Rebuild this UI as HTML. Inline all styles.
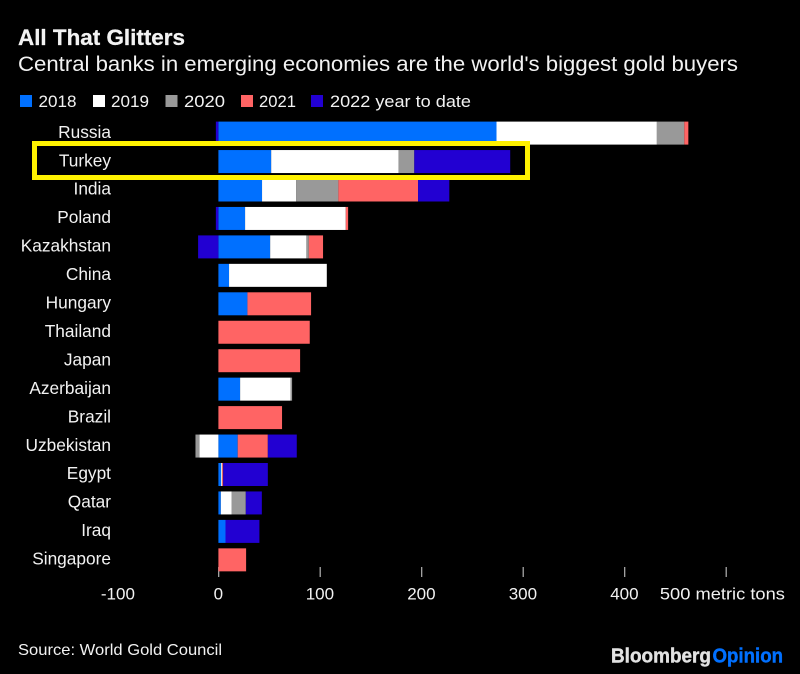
<!DOCTYPE html>
<html lang="en">
<head>
<meta charset="utf-8">
<title>All That Glitters</title>
<style>
html,body{margin:0;padding:0;background:#000;}
#chart-root{display:block;width:800px;height:674px;background:#000;}
text{font-family:"Liberation Sans",sans-serif;fill:#f2f2f2;}
</style>
</head>
<body>
<svg id="chart-root" xmlns="http://www.w3.org/2000/svg" width="800" height="674" viewBox="0 0 800 674">
  <text x="18" y="45" font-size="22.5" font-weight="700" fill="#fff" stroke="#fff" stroke-width="0.25" textLength="167" lengthAdjust="spacingAndGlyphs">All That Glitters</text>
  <text x="18" y="71" font-size="21" textLength="720" lengthAdjust="spacingAndGlyphs">Central banks in emerging economies are the world's biggest gold buyers</text>

  <g>
    <rect x="20" y="95" width="12" height="12" fill="#0070ff"/>
    <text x="38.5" y="107" font-size="17" textLength="38" lengthAdjust="spacingAndGlyphs">2018</text>
    <rect x="93" y="95" width="12" height="12" fill="#ffffff"/>
    <text x="111" y="107" font-size="17" textLength="38" lengthAdjust="spacingAndGlyphs">2019</text>
    <rect x="165.5" y="95" width="12" height="12" fill="#999999"/>
    <text x="184" y="107" font-size="17" textLength="41" lengthAdjust="spacingAndGlyphs">2020</text>
    <rect x="241" y="95" width="12" height="12" fill="#ff6464"/>
    <text x="259" y="107" font-size="17" textLength="37" lengthAdjust="spacingAndGlyphs">2021</text>
    <rect x="311" y="95" width="12" height="12" fill="#2200d2"/>
    <text x="330" y="107" font-size="17" textLength="141" lengthAdjust="spacingAndGlyphs">2022 year to date</text>
  </g>

  <g id="x-axis"></g>
  <g id="bars"></g>
  <g id="y-axis"></g>

  <rect x="34.5" y="143.5" width="493" height="34" fill="none" stroke="#fff200" stroke-width="5"/>

  <text x="18" y="655" font-size="16" textLength="204" lengthAdjust="spacingAndGlyphs">Source: World Gold Council</text>
  <text x="611" y="662.5" font-size="20" font-weight="700" stroke="#e2e2e2" stroke-width="0.4" textLength="100" lengthAdjust="spacingAndGlyphs" style="fill:#e2e2e2">Bloomberg</text>
  <text x="712.5" y="662.5" font-size="20" font-weight="700" stroke="#0070ff" stroke-width="0.4" style="fill:#0070ff" textLength="70.5" lengthAdjust="spacingAndGlyphs">Opinion</text>
</svg>
<script>
var categories = ["Russia","Turkey","India","Poland","Kazakhstan","China","Hungary","Thailand","Japan","Azerbaijan","Brazil","Uzbekistan","Egypt","Qatar","Iraq","Singapore"];
var seriesNames = ["2018","2019","2020","2021","2022"];
var values2018 = [274,52,43,26.3,51,10.5,28.6,0,0,21.4,0,19,2.7,2.4,7,0];
var values2019 = [158,125.5,33.5,99.2,35.7,96.3,0,0,0,49.7,0,-18.7,1,10.8,0,0];
var values2020 = [27,15.5,41.7,0,2.4,0,0,0,0,1.5,0,-3.9,0,13.8,0,0];
var values2021 = [4,0,78.5,2.3,14,0,62.7,90,80.5,0,62.7,29.7,1,0,0,27.3];
var values2022 = [-2.5,94.5,30.8,-2.5,-20,0,0,0,0,0,0,28.5,44,15.8,33.4,0];
var xTickValues = [0,100,200,300,400,500];
var xTickLabels = ["-100","0","100","200","300","400","500 metric tons"];
var xLabelValues = [-100,0,100,200,300,400,500];

var SVGNS = "http://www.w3.org/2000/svg";
var seriesValues = [values2018,values2019,values2020,values2021,values2022];
var seriesColors = ["#0070ff","#ffffff","#999999","#ff6464","#2200d2"];

function xScale(v){ return 218.4 + v * 1.0150; }
function rowTop(i){ return 121.6 + i * 28.45; }
var barHeight = 23;

var barsGroup = document.getElementById("bars");
var yAxisGroup = document.getElementById("y-axis");
var xAxisGroup = document.getElementById("x-axis");

categories.forEach(function(cat, i){
  var label = document.createElementNS(SVGNS, "text");
  label.setAttribute("x", 111);
  label.setAttribute("y", rowTop(i) + 16.2);
  label.setAttribute("text-anchor", "end");
  label.setAttribute("font-size", "17.3");
  
  
  label.textContent = cat;
  yAxisGroup.appendChild(label);

  var pos = 0, neg = 0;
  seriesValues.forEach(function(vals, s){
    var v = vals[i];
    if (!v) return;
    var a, b;
    if (v > 0) { a = pos; b = pos + v; pos = b; }
    else { b = neg; a = neg + v; neg = a; }
    var r = document.createElementNS(SVGNS, "rect");
    r.setAttribute("x", xScale(a));
    r.setAttribute("y", rowTop(i));
    r.setAttribute("width", xScale(b) - xScale(a));
    r.setAttribute("height", barHeight);
    r.setAttribute("fill", seriesColors[s]);
    
    
    r.setAttribute("data-series", seriesNames[s]);
    r.setAttribute("data-category", cat);
    barsGroup.appendChild(r);
  });
});

xTickValues.forEach(function(t){
  var line = document.createElementNS(SVGNS, "line");
  line.setAttribute("x1", xScale(t) + 0.3);
  line.setAttribute("x2", xScale(t) + 0.3);
  line.setAttribute("y1", 567);
  line.setAttribute("y2", 577);
  line.setAttribute("stroke", "#b4b4b4");
  line.setAttribute("stroke-width", "1.2");
  
  
  xAxisGroup.appendChild(line);
});

xLabelValues.forEach(function(t, i){
  var text = xTickLabels[i];
  var el = document.createElementNS(SVGNS, "text");
  el.setAttribute("y", 599.5);
  el.setAttribute("font-size", "17");
  
  
  if (i === xLabelValues.length - 1) {
    el.setAttribute("x", xScale(t) - 66);
    el.setAttribute("textLength", 125);
    el.setAttribute("lengthAdjust", "spacingAndGlyphs");
  } else {
    el.setAttribute("x", xScale(t) + (t < 0 ? 1 : 0));
    el.setAttribute("text-anchor", "middle");
  }
  el.textContent = text;
  xAxisGroup.appendChild(el);
});
</script>
</body>
</html>
